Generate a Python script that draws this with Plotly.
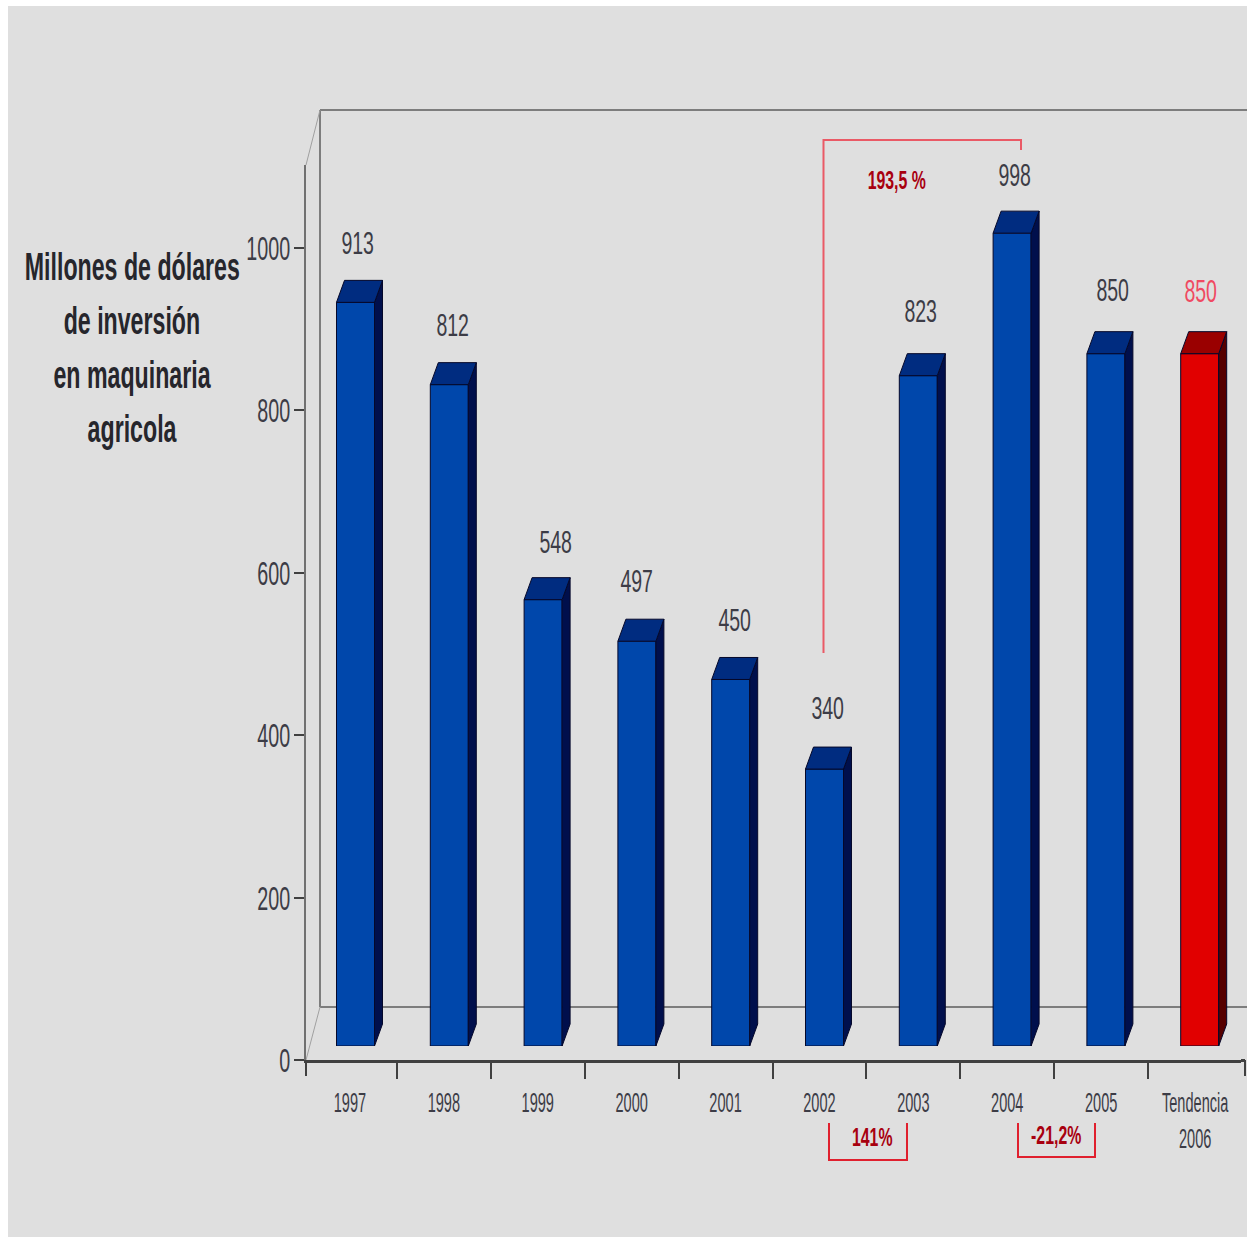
import plotly.graph_objects as go

# Data
years = ["1997", "1998", "1999", "2000", "2001", "2002", "2003", "2004", "2005", "Tendencia<br>2006"]
investment = [913, 812, 548, 497, 450, 340, 823, 998, 850, 850]
title_lines = ["Millones de dólares", "de inversión", "en maquinaria", "agricola"]
y_ticks = [0, 200, 400, 600, 800, 1000]
changes = ["193,5 %", "141%", "-21,2%"]

W, H = 1252, 1237
FONT = "Liberation Sans, Arial, sans-serif"
INK = "#3c3c46"
AXIS_DARK = "#404040"


def fx(px):
    return px / W


def fy(py):
    return 1 - py / H


# Pixel frame of the two coordinate systems: axes in front, columns set slightly back
SLOT = 93.9
AX_LEFT, AX_RIGHT = 306, 1241
AX_ZERO, AX_TOP = 1060, 165
X_START = -0.5 + 3 / SLOT
X_END = X_START + (AX_RIGHT - AX_LEFT) / SLOT
BAR_SLOT = 93.8
BAR_LEFT = 308.6
BAR_ZERO, BAR_TOP = 1046, 110
PX_PER_UNIT = 0.8145
BAR_W = 38 / BAR_SLOT
DX = 8 / BAR_SLOT
DY = 22 / PX_PER_UNIT

fig = go.Figure()

# Invisible trace keeps the category axis populated
fig.add_trace(go.Scatter(x=years, y=investment, mode="markers", marker=dict(opacity=0),
                         hoverinfo="skip", showlegend=False, xaxis="x", yaxis="y"))

palette_blue = dict(front="#0047ab", top="#002c80", side="#000f4c")
palette_red = dict(front="#e10000", top="#9a0000", side="#560000")
colours = [palette_blue] * (len(years) - 1) + [palette_red]

# Extruded faces of each column, derived from its value
for i, (v, c) in enumerate(zip(investment, colours)):
    l, r = i - BAR_W / 2, i + BAR_W / 2
    fig.add_trace(go.Scatter(
        x=[r, r + DX, r + DX, r, r], y=[0, DY, v + DY, v, 0],
        mode="lines", fill="toself", fillcolor=c["side"], line=dict(color="#05082a", width=1),
        hoverinfo="skip", showlegend=False, xaxis="x2", yaxis="y2"))
    fig.add_trace(go.Scatter(
        x=[l, l + DX, r + DX, r, l], y=[v, v + DY, v + DY, v, v],
        mode="lines", fill="toself", fillcolor=c["top"], line=dict(color="#05082a", width=1),
        hoverinfo="skip", showlegend=False, xaxis="x2", yaxis="y2"))

fig.add_trace(go.Bar(
    x=list(range(len(years))), y=investment, width=BAR_W,
    marker=dict(color=[c["front"] for c in colours], line=dict(color="#05082a", width=1)),
    hoverinfo="skip", showlegend=False, xaxis="x2", yaxis="y2"))

WALL = "#7d7d7d"


def seg(x0, y0, x1, y1, color=WALL, width=2, layer="below"):
    return dict(type="line", xref="paper", yref="paper", x0=fx(x0), y0=fy(y0), x1=fx(x1), y1=fy(y1),
                line=dict(color=color, width=width), layer=layer)


def path(points, color, width=2):
    d = "M " + " L ".join(f"{fx(a):.5f},{fy(b):.5f}" for a, b in points)
    return dict(type="path", xref="paper", yref="paper", path=d,
                line=dict(color=color, width=width), layer="above")


shapes = [
    dict(type="rect", xref="paper", yref="paper", x0=fx(8), x1=fx(1247), y0=0, y1=fy(6),
         fillcolor="#dfdfdf", line=dict(width=0), layer="below"),
    # Back wall and floor edges
    seg(320, 110, 1247, 110),
    seg(320, 110, 320, 1007),
    seg(320, 1007, 1247, 1007),
    seg(306, 165, 320, 110, "#a0a0a0", 1),
    seg(306, 1060, 320, 1007, "#a0a0a0", 1),
    # Outer ticks at both ends of the category axis
    seg(306, 1060, 306, 1076, AXIS_DARK, 2, "above"),
    seg(1241, 1060.5, 1245, 1060.5, AXIS_DARK, 3, "above"),
    seg(1245, 1060, 1245, 1076, AXIS_DARK, 2, "above"),
    # Change brackets
    path([(823.5, 653), (823.5, 140), (1021, 140), (1021, 150)], "#ea5a66"),
    path([(829, 1123), (829, 1160), (907, 1160), (907, 1123)], "#e0202e"),
    path([(1018, 1123), (1018, 1157), (1095, 1157), (1095, 1123)], "#e0202e"),
]

annotations = []


def text(px, py, s, size, color, bold=False):
    annotations.append(dict(
        xref="paper", yref="paper", x=fx(px), y=fy(py), xanchor="center", yanchor="middle",
        text=f"<b>{s}</b>" if bold else s, showarrow=False,
        font=dict(family=FONT, size=size, color=color)))


# Axis heading, one annotation per row for the wide line pitch
for row, line in zip([267, 321, 375, 429], title_lines):
    text(132, row, line, 38, "#26262c", bold=True)

# Value labels sit above each column; the nudge keeps them clear of the extrusion
nudge_x = [2, 3, 12, 0, 4, 3, 2, 2, 7, 1]
nudge_y = [59, 60, 58, 60, 59, 61, 65, 58, 64, 63]
for i, v in enumerate(investment):
    annotations.append(dict(
        xref="x2", yref="y2", x=i, y=v, xanchor="center", yanchor="middle",
        xshift=nudge_x[i], yshift=nudge_y[i], text=str(v), showarrow=False,
        font=dict(family=FONT, size=32, color="#f04a62" if i == len(years) - 1 else INK)))

# Percentage changes
text(897, 180, changes[0], 26, "#a8000f", bold=True)
text(872, 1137, changes[1], 26, "#a8000f", bold=True)
text(1056, 1135, changes[2], 26, "#a8000f", bold=True)

fig.update_layout(
    width=W, height=H, autosize=False,
    margin=dict(l=0, r=0, t=0, b=0),
    paper_bgcolor="white", plot_bgcolor="rgba(0,0,0,0)",
    showlegend=False, barmode="overlay",
    shapes=shapes, annotations=annotations,
    xaxis=dict(
        domain=[fx(AX_LEFT), fx(AX_RIGHT)], type="category", automargin=False,
        categoryorder="array", categoryarray=years, range=[X_START, X_END],
        tickson="boundaries", ticks="outside", ticklen=16, tickwidth=2, tickcolor=AXIS_DARK,
        showline=True, linecolor=AXIS_DARK, linewidth=3, showgrid=False, zeroline=False,
        tickfont=dict(family=FONT, size=28, color=INK), ticklabelstandoff=15, tickangle=0, anchor="y",
        fixedrange=True),
    yaxis=dict(
        domain=[fy(AX_ZERO), fy(AX_TOP)], range=[0, (AX_ZERO - AX_TOP) / 0.812], automargin=False,
        tickmode="array", tickvals=y_ticks, ticks="outside", ticklen=10, tickwidth=2, tickcolor=AXIS_DARK,
        showline=True, linecolor="#707070", linewidth=2, showgrid=False, zeroline=False,
        tickfont=dict(family=FONT, size=34, color=INK), ticklabelstandoff=-3, anchor="x", fixedrange=True),
    xaxis2=dict(
        domain=[fx(BAR_LEFT), fx(BAR_LEFT + BAR_SLOT * len(years))], range=[-0.5, len(years) - 0.5],
        visible=False, anchor="y2", automargin=False, fixedrange=True),
    yaxis2=dict(
        domain=[fy(BAR_ZERO), fy(BAR_TOP)], range=[0, (BAR_ZERO - BAR_TOP) / PX_PER_UNIT],
        visible=False, anchor="x2", automargin=False, fixedrange=True),
)

# The chart uses a tall, condensed lettering: squeeze each text horizontally about its anchor
CONDENSE = """
var gd = document.getElementById('{plot_id}');
function squeeze(sel, sx, atRight) {
  gd.querySelectorAll(sel).forEach(function (t) {
    var b = t.getBBox();
    var cx = atRight ? b.x + b.width : b.x + b.width / 2;
    var prev = t.getAttribute('transform') || '';
    t.setAttribute('transform', prev + ' translate(' + cx + ',0) scale(' + sx + ',1) translate(' + (-cx) + ',0)');
  });
}
squeeze('.xtick text', 0.52, false);
squeeze('.ytick text', 0.58, true);
squeeze('.annotation-text', 0.61, false);
"""

fig.write_html("out.html", post_script=CONDENSE)
